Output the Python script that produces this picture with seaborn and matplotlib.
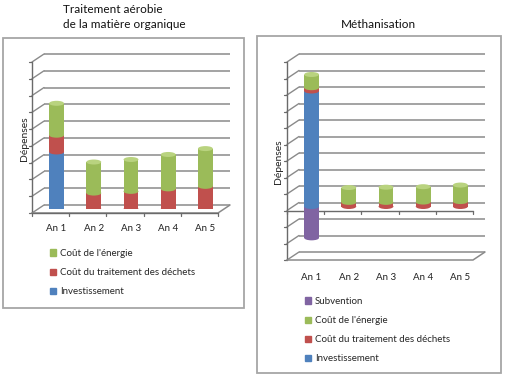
import numpy as np
import pandas as pd
import matplotlib
matplotlib.use("Agg")
import matplotlib.pyplot as plt
import seaborn as sns
from matplotlib.patches import Ellipse, Rectangle, Patch

# ---------------- data ----------------
years = ["An 1", "An 2", "An 3", "An 4", "An 5"]

aer_investissement = [3.4, 0, 0, 0, 0]
aer_dechets = [1.0, 0.95, 1.05, 1.2, 1.35]
aer_energie = [1.9, 1.85, 1.9, 2.05, 2.25]

meth_subvention = [-1.9, 0, 0, 0, 0]
meth_investissement = [7.0, 0, 0, 0, 0]
meth_dechets = [0.2, 0.25, 0.25, 0.27, 0.3]
meth_energie = [0.8, 0.9, 0.92, 0.93, 1.0]

lbl_inv = "Investissement"
lbl_dech = "Coût du traitement des déchets"
lbl_ener = "Coût de l'énergie"
lbl_subv = "Subvention"
title_left = "Traitement aérobie\nde la matière organique"
title_right = "Méthanisation"
ylabel = "Dépenses"

C_BLUE = "#4F81BD"
C_RED = "#C0504D"
C_GREEN = "#9BBB59"
C_PURPLE = "#8064A2"
C_GREEN_TOP = "#B9D37F"
GRID = "#8a8a8a"
AXC = "#6a6a6a"

sns.set_style("white")
plt.rcParams["font.family"] = ["Lato", "DejaVu Sans"]

W, H = 505, 378
fig = plt.figure(figsize=(W / 100, H / 100), dpi=100)

ov = fig.add_axes([0, 0, 1, 1], zorder=0)
ov.set_xlim(0, W)
ov.set_ylim(H, 0)
ov.axis("off")

DX, DY = 12, 8  # depth offset in px


def make_panel(x0, x1, yb, yt, vmin, vmax, cat_axis_v):
    ppu = (yb - yt) / (vmax - vmin)

    def px(xv, v, d):
        return (x0 + (xv + 0.5) / 5 * (x1 - x0) + d * DX,
                yb - (v - vmin) * ppu - d * DY)

    # back wall gridlines + left wall diagonals
    for v in range(vmin, vmax + 1):
        a = px(-0.5, v, 1); b = px(4.5, v, 1)
        ov.plot([a[0], b[0]], [a[1], b[1]], color=GRID, lw=1.1, solid_capstyle="butt")
        f = px(-0.5, v, 0)
        ov.plot([f[0], a[0]], [f[1], a[1]], color=GRID, lw=1.0)
        ov.plot([f[0] - 3, f[0]], [f[1], f[1]], color=AXC, lw=0.9)
    # front vertical axis
    a = px(-0.5, vmin, 0); b = px(-0.5, vmax, 0)
    ov.plot([a[0], b[0]], [a[1], b[1]], color=AXC, lw=1.0)
    # floor
    a = px(-0.5, vmin, 0); b = px(4.5, vmin, 0); c = px(4.5, vmin, 1)
    ov.plot([a[0], b[0], c[0]], [a[1], b[1], c[1]], color=GRID, lw=1.1)
    # category axis
    a = px(-0.5, cat_axis_v, 0); b = px(4.5, cat_axis_v, 0)
    ov.plot([a[0], b[0]], [a[1], b[1]], color=AXC, lw=1.0)
    for k in range(6):
        t = px(k - 0.5, cat_axis_v, 0)
        ov.plot([t[0], t[0]], [t[1], t[1] + 3], color=AXC, lw=0.9)

    # bar-plane axes
    l = x0 + DX / 2; r = x1 + DX / 2
    top = yt - DY / 2; bot = yb - DY / 2
    ax = fig.add_axes([l / W, 1 - bot / H, (r - l) / W, (bot - top) / H], zorder=2)
    ax.patch.set_visible(False)
    ax.set_xlim(-0.5, 4.5)
    ax.set_ylim(vmin, vmax)
    for s in ax.spines.values():
        s.set_visible(False)
    return ax, ppu


def stacked_cylinders(ax, ppu, segs, colors, top_color, neg=None):
    cums = np.cumsum(np.array(segs, dtype=float), axis=0)
    df = pd.DataFrame({"year": years})
    for i in range(len(segs) - 1, -1, -1):
        df["v"] = cums[i]
        sns.barplot(data=df, x="year", y="v", color=colors[i], saturation=1,
                    width=0.4, ax=ax, linewidth=0, errorbar=None)
    if neg is not None:
        df["v"] = neg[0]
        sns.barplot(data=df, x="year", y="v", color=neg[1], saturation=1,
                    width=0.4, ax=ax, linewidth=0, errorbar=None)
    eh = 5 / ppu
    for j in range(len(years)):
        if neg is not None and neg[0][j] != 0:
            ax.add_patch(Ellipse((j, neg[0][j]), 0.4, eh, color=neg[1], lw=0, zorder=3))
        base = 0.0
        for i in range(len(segs)):
            if segs[i][j] != 0:
                ax.add_patch(Ellipse((j, base), 0.4, eh, color=colors[i], lw=0, zorder=3))
            base = cums[i][j]
        ax.add_patch(Ellipse((j, base), 0.4, eh, color=top_color, lw=0, zorder=4))
    ax.set_xlabel("")
    ax.set_yticks([])


# ---------------- left panel ----------------
axL, ppuL = make_panel(32, 218, 213, 62, 0, 9, 0)
stacked_cylinders(axL, ppuL, [aer_investissement, aer_dechets, aer_energie],
                  [C_BLUE, C_RED, C_GREEN], C_GREEN_TOP)
axL.tick_params(axis="x", length=0, pad=11, labelsize=7, labelcolor="#222222")
axL.set_ylabel(ylabel, fontsize=7.5, va="center", color="#222222")
axL.yaxis.set_label_coords((24 - 38) / 186, 1 - (139 - 58) / 151)

# ---------------- right panel ----------------
axR, ppuR = make_panel(287, 473, 260, 62, -3, 9, 0)
stacked_cylinders(axR, ppuR, [meth_investissement, meth_dechets, meth_energie],
                  [C_BLUE, C_RED, C_GREEN], C_GREEN_TOP,
                  neg=(meth_subvention, C_PURPLE))
axR.tick_params(axis="x", length=0, pad=12, labelsize=7, labelcolor="#222222")
axR.set_ylabel(ylabel, fontsize=7.5, va="center", color="#222222")
axR.yaxis.set_label_coords((278 - 293) / 186, 1 - (162 - 58) / 198)

# ---------------- frames ----------------
ov.add_patch(Rectangle((2.5, 37.5), 241.5, 270, fill=False, ec="#a6a6a6", lw=1.3))
ov.add_patch(Rectangle((256.5, 35.5), 244.5, 337, fill=False, ec="#a6a6a6", lw=1.3))

# ---------------- titles ----------------
fig.text(63 / W, 1 - 4 / H, title_left, ha="left", va="top", fontsize=8.5,
         linespacing=1.4, color="#111111")
fig.text(378 / W, 1 - 24 / H, title_right, ha="center", va="center", fontsize=8.5,
         color="#111111")

# ---------------- legends ----------------
hL = [Patch(color=C_GREEN, label=lbl_ener), Patch(color=C_RED, label=lbl_dech),
      Patch(color=C_BLUE, label=lbl_inv)]
hR = [Patch(color=C_PURPLE, label=lbl_subv)] + hL
common = dict(loc="upper left", frameon=False, borderpad=0, borderaxespad=0,
              fontsize=7, handlelength=0.6, handleheight=0.6, handletextpad=0.4,
              labelspacing=1.03, bbox_transform=fig.transFigure)
fig.legend(handles=hL, bbox_to_anchor=(50 / W, 1 - 249 / H), **common)
fig.legend(handles=hR, bbox_to_anchor=(305 / W, 1 - 297 / H), **common)

fig.savefig("out.png", dpi=100)
